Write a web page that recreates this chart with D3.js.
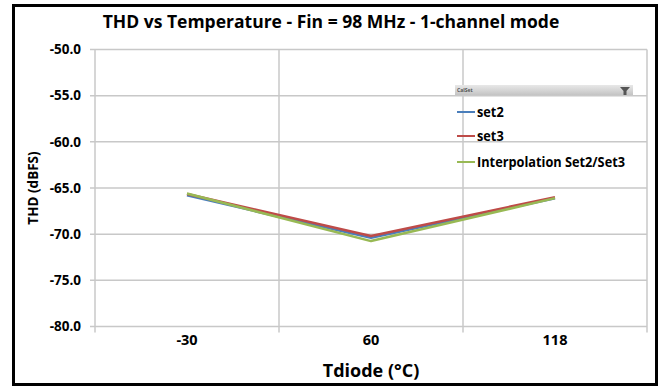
<!DOCTYPE html>
<html><head><meta charset="utf-8">
<script src="https://cdn.jsdelivr.net/npm/d3@7"></script>
<style>
body{margin:0;background:#fff;}
text{font-family:"Open Sans",sans-serif;font-weight:bold;}
</style></head>
<body><svg id="c" width="662" height="387"></svg>
<script>
const categories = ["-30", "60", "118"];
const set2 = [-65.8, -70.4, -66.1];
const set3 = [-65.65, -70.2, -66.0];
const interp = [-65.6, -70.75, -66.1];
const yTicks = [-50, -55, -60, -65, -70, -75, -80];
const seriesNames = ["set2", "set3", "Interpolation Set2/Set3"];
const colors = ["#4a7ebb", "#be4b48", "#98b954"];
const series = [set2, set3, interp];

const svg = d3.select("#c");
svg.append("rect").attr("x", 13.5).attr("y", 5.5).attr("width", 643).attr("height", 379)
  .attr("fill", "#fff").attr("stroke", "#000").attr("stroke-width", 3);

const L = 95, R = 647, T = 49.5, B = 326.5;
const x = d3.scaleBand().domain(categories).range([L, R]);
const y = d3.scaleLinear().domain([-80, -50]).range([B, T]);

const g = svg.append("g");
g.selectAll(".hg").data(yTicks).join("line")
  .attr("x1", L - 5).attr("x2", R).attr("y1", d => y(d)).attr("y2", d => y(d))
  .attr("stroke", "#c8c8c8").attr("stroke-width", 1.5);
const bounds = categories.map(c => x(c)).concat([R]);
g.selectAll(".vg").data(bounds).join("line")
  .attr("x1", d => d).attr("x2", d => d).attr("y1", T).attr("y2", B + 6)
  .attr("stroke", "#c8c8c8").attr("stroke-width", 1.5);

g.selectAll(".yl").data(yTicks).join("text")
  .attr("x", 81).attr("y", d => y(d)).attr("dy", "0.35em")
  .attr("text-anchor", "end").attr("font-size", 13.5).text(d => d.toFixed(1));
g.selectAll(".xl").data(categories).join("text")
  .attr("x", d => x(d) + x.bandwidth() / 2).attr("y", 345)
  .attr("text-anchor", "middle").attr("font-size", 14.5).text(d => d);

const line = d3.line().x((d, i) => x(categories[i]) + x.bandwidth() / 2).y(d => y(d));
series.forEach((s, i) => {
  g.append("path").attr("d", line(s)).attr("fill", "none")
    .attr("stroke", colors[i]).attr("stroke-width", 2.5).attr("stroke-linejoin", "round");
});

svg.append("text").attr("x", 331).attr("y", 28).attr("text-anchor", "middle")
  .attr("font-size", 17.5).text("THD vs Temperature - Fin = 98 MHz - 1-channel mode");
svg.append("text").attr("x", 371).attr("y", 377).attr("text-anchor", "middle")
  .attr("font-size", 18).text("Tdiode (°C)");
svg.append("text").attr("transform", "translate(38,188) rotate(-90)").attr("text-anchor", "middle")
  .attr("font-size", 13.5).text("THD (dBFS)");

const lg = svg.append("g");
const grad = svg.append("defs").append("linearGradient").attr("id", "hb").attr("x1", 0).attr("x2", 0).attr("y1", 0).attr("y2", 1);
grad.append("stop").attr("offset", 0).attr("stop-color", "#e8e8e8");
grad.append("stop").attr("offset", 1).attr("stop-color", "#c4c4c4");
lg.append("rect").attr("x", 455).attr("y", 85).attr("width", 178).attr("height", 10).attr("fill", "url(#hb)");
lg.append("text").attr("x", 457).attr("y", 92).attr("font-size", 5).attr("font-weight", "normal").attr("fill", "#555").text("CalSet");
lg.append("path").attr("d", "M620,87 L630,87 L626.5,91 L626.5,95 L623.5,95 L623.5,91 Z").attr("fill", "#555");
seriesNames.forEach((n, i) => {
  const yy = [112, 136, 162][i];
  lg.append("line").attr("x1", 457).attr("x2", 475).attr("y1", yy).attr("y2", yy)
    .attr("stroke", colors[i]).attr("stroke-width", 2);
  lg.append("text").attr("transform", `translate(477,${yy}) scale(0.88,1)`)
    .attr("dy", "0.35em").attr("font-size", 14.5).text(n);
});
</script></body></html>
